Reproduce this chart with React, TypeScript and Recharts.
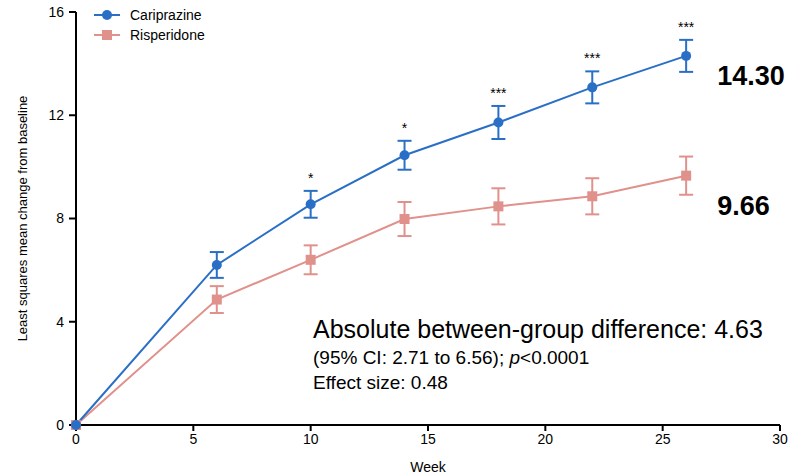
import React from 'react';
import { LineChart, Line, XAxis, YAxis, ErrorBar, LabelList } from 'recharts';

const weeks = [0, 6, 10, 14, 18, 22, 26];
const cariprazine = [0, 6.2, 8.55, 10.45, 11.72, 13.08, 14.3];
const cariprazineErr = [0, 0.5, 0.52, 0.56, 0.64, 0.62, 0.62];
const risperidone = [0, 4.86, 6.4, 7.98, 8.47, 8.86, 9.66];
const risperidoneErr = [0, 0.52, 0.56, 0.66, 0.7, 0.7, 0.74];
const stars = ['', '', '*', '*', '***', '***', '***'];
const xTicks = [0, 5, 10, 15, 20, 25, 30];
const yTicks = [0, 4, 8, 12, 16];

const BLUE = '#2a6fc6';
const SALMON = '#e0918b';
const FONT = '"Liberation Sans Narrow", "Arial Narrow", "Liberation Sans", sans-serif';

const data = weeks.map((w, i) => ({
  week: w,
  car: cariprazine[i],
  carErr: cariprazineErr[i],
  carTop: cariprazine[i] + cariprazineErr[i],
  ris: risperidone[i],
  risErr: risperidoneErr[i],
  star: stars[i],
}));

const SquareDot = (props: any) => {
  const { cx, cy } = props;
  if (cx == null || cy == null) return null;
  return <rect x={cx - 5} y={cy - 5} width={10} height={10} fill={SALMON} />;
};

const endLabel = (dy: number) => (props: any) => {
  const { x, y, index, value } = props;
  if (index !== weeks.length - 1) return null;
  return (
    <text x={x + 31} y={y + dy} fontSize={27} fontWeight="bold" fontFamily={FONT} fill="#000" dominantBaseline="central">
      {Number(value).toFixed(2)}
    </text>
  );
};

const starLabel = (props: any) => {
  const { x, y, index } = props;
  const s = stars[index];
  if (!s) return null;
  return (
    <text x={x} y={y - 8} fontSize={14} fontFamily={FONT} fill="#000" textAnchor="middle">
      {s}
    </text>
  );
};

const tickStyle = { fontSize: 14, fontFamily: FONT, fill: '#000' };

export default function App() {
  return (
    <div style={{ position: 'absolute', left: 0, top: 0, width: 792, height: 474, background: '#fff', fontFamily: FONT }}>
      <LineChart width={792} height={474} data={data} margin={{ top: 12, right: 12, left: 0, bottom: 0 }}>
        <XAxis
          dataKey="week"
          type="number"
          domain={[0, 30]}
          ticks={xTicks}
          tick={tickStyle}
          tickSize={6}
          tickMargin={3}
          axisLine={{ stroke: '#000', strokeWidth: 2 }}
          tickLine={{ stroke: '#000', strokeWidth: 2 }}
          height={49}
          label={{ value: 'Week', position: 'insideBottom', offset: 2, style: { ...tickStyle, fontSize: 14 } }}
        />
        <YAxis
          type="number"
          domain={[0, 16]}
          ticks={yTicks}
          tick={tickStyle}
          tickSize={7}
          tickMargin={5}
          axisLine={{ stroke: '#000', strokeWidth: 2 }}
          tickLine={{ stroke: '#000', strokeWidth: 2 }}
          width={76}
          label={{
            value: 'Least squares mean change from baseline',
            angle: -90,
            position: 'insideLeft',
            offset: 22,
            style: { ...tickStyle, fontSize: 13, textAnchor: 'middle' },
          }}
        />
        <Line
          dataKey="carTop"
          stroke="none"
          dot={false}
          activeDot={false}
          isAnimationActive={false}
          legendType="none"
        >
          <LabelList dataKey="star" content={starLabel} />
        </Line>
        <Line
          dataKey="ris"
          stroke={SALMON}
          strokeWidth={2}
          dot={<SquareDot />}
          activeDot={false}
          isAnimationActive={false}
        >
          <ErrorBar dataKey="risErr" width={7} stroke={SALMON} strokeWidth={2} direction="y" />
          <LabelList dataKey="ris" content={endLabel(30)} />
        </Line>
        <Line
          dataKey="car"
          stroke={BLUE}
          strokeWidth={2}
          dot={{ r: 5, fill: BLUE, stroke: BLUE, strokeWidth: 0 }}
          activeDot={false}
          isAnimationActive={false}
        >
          <ErrorBar dataKey="carErr" width={7} stroke={BLUE} strokeWidth={2} direction="y" />
          <LabelList dataKey="car" content={endLabel(20)} />
        </Line>
      </LineChart>

      <div style={{ position: 'absolute', left: 94, top: 5, fontSize: 14, lineHeight: '20px', color: '#000' }}>
        <div style={{ display: 'flex', alignItems: 'center' }}>
          <svg width={26} height={12} style={{ marginRight: 10 }}>
            <line x1={0} y1={6} x2={26} y2={6} stroke={BLUE} strokeWidth={2} />
            <circle cx={13} cy={6} r={5} fill={BLUE} />
          </svg>
          Cariprazine
        </div>
        <div style={{ display: 'flex', alignItems: 'center' }}>
          <svg width={26} height={12} style={{ marginRight: 10 }}>
            <line x1={0} y1={6} x2={26} y2={6} stroke={SALMON} strokeWidth={2} />
            <rect x={8} y={1} width={10} height={10} fill={SALMON} />
          </svg>
          Risperidone
        </div>
      </div>

      <div style={{ position: 'absolute', left: 313, top: 313, color: '#000' }}>
        <div style={{ fontSize: 25, lineHeight: '32px' }}>Absolute between-group difference: 4.63</div>
        <div style={{ fontSize: 19, lineHeight: '25px' }}>
          (95% CI: 2.71 to 6.56); <i>p</i>&lt;0.0001
        </div>
        <div style={{ fontSize: 19, lineHeight: '25px' }}>Effect size: 0.48</div>
      </div>
    </div>
  );
}
